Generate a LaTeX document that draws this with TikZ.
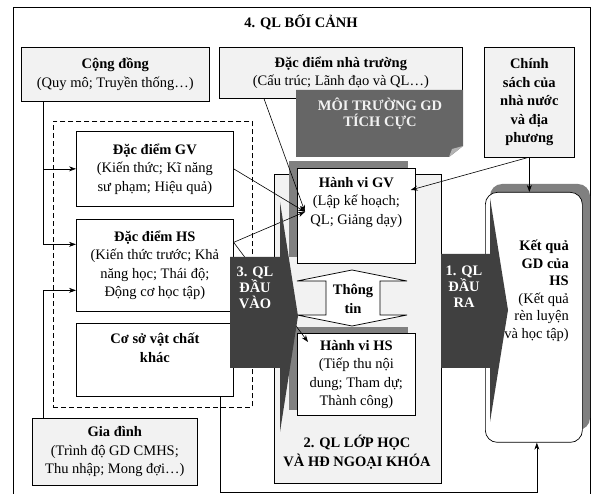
\documentclass[tikz,border=0pt]{standalone}
\usepackage{fontspec}
\setmainfont{Liberation Serif}
\usetikzlibrary{arrows.meta,positioning}
\definecolor{paleFill}{HTML}{F2F2F2}
\definecolor{darkArrow}{HTML}{404040}
\definecolor{envFill}{HTML}{666666}
\definecolor{shadowGray}{HTML}{808080}
\newcommand{\txtsize}{\fontsize{14.5}{18.5}\selectfont}
\tikzset{
	box/.style={draw, line width=0.7pt, anchor=north west, inner sep=0pt, align=center, font=\txtsize},
	pale/.style={box, fill=paleFill},
	plain/.style={box, fill=white},
	txt/.style={inner sep=0pt, align=center, font=\txtsize},
	darktxt/.style={inner sep=0pt, align=center, text=white, font=\fontsize{14.5}{16}\selectfont\bfseries},
	arr/.style={-{Stealth[length=7pt,width=5pt]}, line width=0.6pt}
}
\begin{document}
\begin{tikzpicture}[x=1pt,y=-1pt]
			\useasboundingbox (0,0) rectangle (595,494);
			\draw[line width=0.7pt] (13,494) -- (13,7) -- (590,7) -- (590,494);
			\node[txt, font=\txtsize\bfseries] (title) at (301,22) {4. QL BỐI CẢNH};
			
			\node[pale, minimum width=188pt, minimum height=54pt] (cong) at (21,47) {\textbf{Cộng đồng}\\(Quy mô; Truyền thống…)};
			\node[pale, minimum width=243pt, minimum height=51pt] (truong) at (219,47) {\textbf{Đặc điểm nhà trường}\\(Cấu trúc; Lãnh đạo và QL…)};
			\fill[envFill] (296,90) -- (463,90) -- (463,146) -- (449,157) -- (296,157) -- cycle;
			\fill[shadowGray!60] (449,157) -- (452,149) -- (463,146) -- cycle;
			\node[darktxt, text=paleFill] (env) at (380,114) {MÔI TRƯỜNG GD\\TÍCH CỰC};
			\node[pale, minimum width=90pt, minimum height=110pt, font=\txtsize\bfseries] (cs) at (484,47) {Chính\\sách của\\nhà nước\\và địa\\phương};
			
			\node[box, dash pattern=on 5pt off 3pt, minimum width=199pt, minimum height=286pt] (vao) at (53,121) {};
			\node[plain, minimum width=157pt, minimum height=75pt] (gv) at (76,131) {\textbf{Đặc điểm GV}\\(Kiến thức; Kĩ năng\\sư phạm; Hiệu quả)};
			\node[plain, minimum width=157pt, minimum height=92pt] (hs) at (76,219) {\textbf{Đặc điểm HS}\\(Kiến thức trước; Khả\\năng học; Thái độ;\\Động cơ học tập)};
			\node[plain, minimum width=157pt, minimum height=73pt] (vc) at (76,323) {};
			\node[txt, font=\txtsize\bfseries, below=10pt of vc.north] (vctxt) {Cơ sở vật chất\\khác};
			\node[pale, minimum width=165pt, minimum height=67pt] (gd) at (32,418) {\textbf{Gia đình}\\(Trình độ GD CMHS;\\Thu nhập; Mong đợi…)};
			
			\node[pale, minimum width=167pt, minimum height=309pt] (lop) at (274,174) {};
			\node[txt, font=\txtsize\bfseries] (loptxt) at (357,452) {2. QL LỚP HỌC\\VÀ HĐ NGOẠI KHÓA};
			\fill[shadowGray] (289,161) rectangle (408,257);
			\node[plain, minimum width=118pt, minimum height=95pt] (hvgv) at (297,168) {};
			\node[txt, below=9pt of hvgv.north] (hvgvtxt) {\textbf{Hành vi GV}\\(Lập kế hoạch;\\QL; Giảng dạy)};
			\draw[line width=0.7pt, fill=white] (352,270) -- (407,281) -- (380,281) -- (380,315) -- (407,315) -- (352,326) -- (297,315) -- (326,315) -- (326,281) -- (297,281) -- cycle;
			\node[txt, font=\txtsize\bfseries] (info) at (353,299) {Thông\\tin};
			\fill[shadowGray] (289,327) rectangle (408,410);
			\node[plain, minimum width=118pt, minimum height=82pt] (hvhs) at (297,333) {\textbf{Hành vi HS}\\(Tiếp thu nội\\dung; Tham dự;\\Thành công)};
			
			\fill[shadowGray, rounded corners=12pt] (490,184) rectangle (590,430);
			\node[plain, rounded corners=12pt, minimum width=97pt, minimum height=250pt] (kq) at (485,192) {};
			\node[txt, align=right, anchor=east, font=\fontsize{14.5}{17.5}\selectfont] (kqtxt) at (569,291) {\textbf{Kết quả}\\\textbf{GD của}\\\textbf{HS}\\(Kết quả\\rèn luyện\\và học tập)};
			
			\coordinate (hvin) at ([xshift=8pt,yshift=4pt]hvgv.west);
			\draw[arr] ([xshift=22pt]cong.south west) |- (gv.west);
			\draw[arr] ([xshift=22pt]cong.south west) |- ([yshift=21pt]hs.west);
			\draw[arr] ([xshift=11pt]gd.north west) |- ([yshift=-25pt]hs.west);
			\path[arr]
			([xshift=45pt]truong.south west) edge (hvin)
			(gv.east) edge (hvin)
			([yshift=23pt]hs.east) edge (hvin)
			([yshift=23pt]hs.east) edge ([xshift=11pt,yshift=-9pt]hvhs.north west)
			(cs.south) edge (cs.south |- kq.north)
			([xshift=-2pt]cs.south) edge ([xshift=-5pt,yshift=-22pt]hvgv.north east);
			\draw[arr] ([xshift=-13pt]vc.south east) -- ++(0,96) -| ([xshift=3pt]kq.south);
			
			\fill[darkArrow] (230,257) -- (280,257) -- (280,202) -- (298,316) -- (280,432) -- (280,368) -- (230,368) -- cycle;
			\node[darktxt] (dauvao) at (255,288) {3. QL\\ĐẦU\\VÀO};
			\fill[darkArrow] (441,254) -- (490,254) -- (490,198) -- (508,310) -- (490,422) -- (490,368) -- (441,368) -- cycle;
			\node[darktxt] (daura) at (464,287) {1. QL\\ĐẦU\\RA};
		\end{tikzpicture}
\end{document}
